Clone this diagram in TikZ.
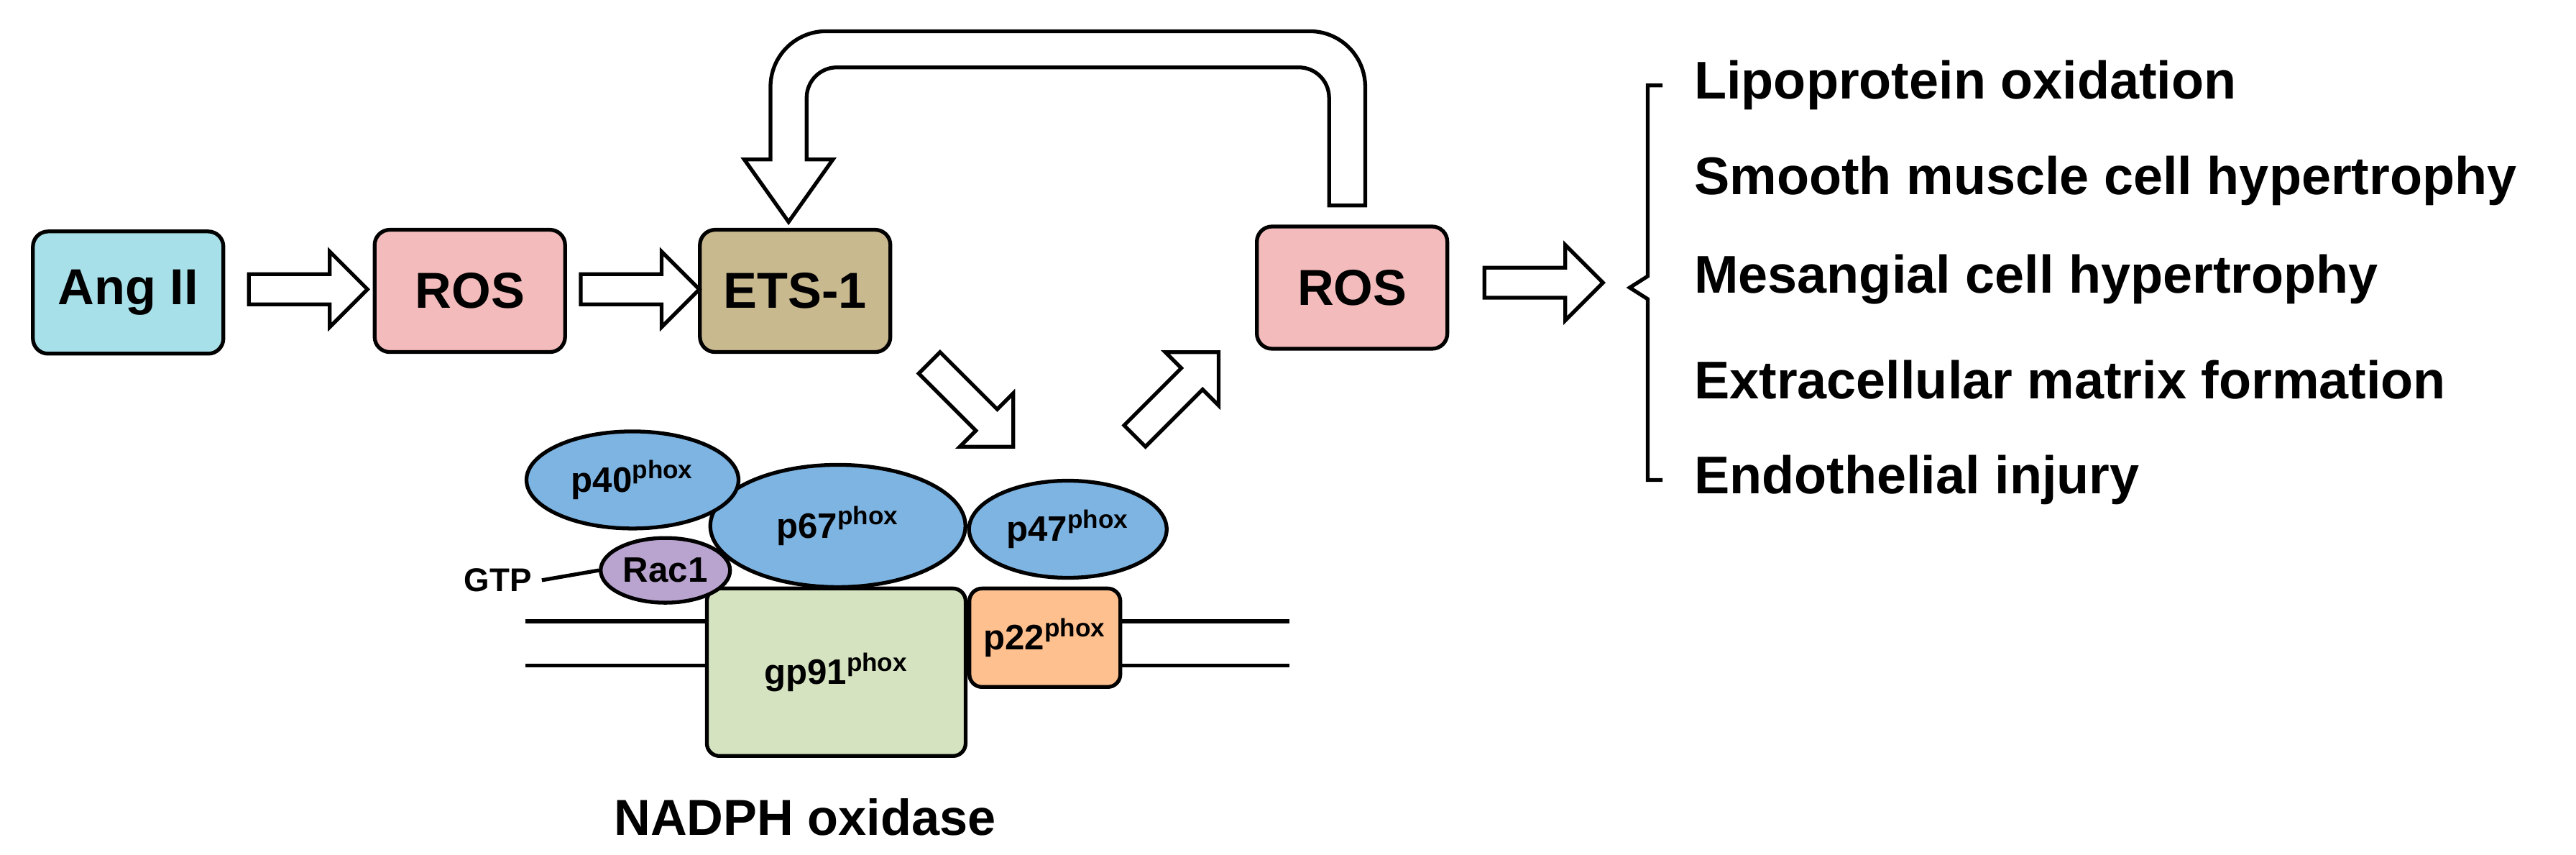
\documentclass[tikz,border=0pt]{standalone}
\usepackage{fontspec}
\setmainfont{Liberation Sans}
\usetikzlibrary{shapes.arrows, shapes.geometric}
\tikzset{
  every path/.style={line width=1.5pt},
  box/.style={draw, rounded corners=6pt, minimum width=2.65cm, minimum height=1.7cm, font=\fontsize{20}{22}\selectfont\bfseries},
  barrow/.style={draw, fill=white, single arrow, minimum height=1.65cm, minimum width=1.05cm, single arrow head extend=0.25cm, inner sep=0.14cm},
  sub/.style={draw, ellipse, font=\fontsize{14}{16}\selectfont\bfseries, fill=blue67},
  txt/.style={anchor=west, font=\fontsize{21}{24}\selectfont\bfseries}
}
\definecolor{cyanbox}{HTML}{A8E0E9}
\definecolor{pinkbox}{HTML}{F3BBBB}
\definecolor{tanbox}{HTML}{C9B98F}
\definecolor{blue67}{HTML}{7DB4E2}
\definecolor{greenbox}{HTML}{D5E3C0}
\definecolor{orangebox}{HTML}{FFC08F}
\definecolor{purplebox}{HTML}{B9A3CF}
\newcommand{\phox}[1]{#1\textsuperscript{\fontsize{10}{11}\selectfont phox}}
\begin{document}
\begin{tikzpicture}[x=0.02286cm, y=-0.02286cm]
\useasboundingbox (0,0) rectangle (1568,520);
% main chain
\node[box, fill=cyanbox] (ang) at (78,178) {Ang II};
\node[box, fill=pinkbox] (ros1) at (286,177) {ROS};
\node[box, fill=tanbox] (ets) at (484,177) {ETS-1};
\node[box, fill=pinkbox] (ros2) at (823,175) {ROS};
\node[barrow] (a1) at (183,176) {};
\node[barrow] (a2) at (385,176) {};
\node[barrow] (a3) at (935,172) {};
\node[barrow, rotate=-45] (a4) at (588,243) {};
\node[barrow, rotate=45] (a5) at (713,243) {};
% feedback loop
\draw[fill=white] (809,125) [rounded corners=12pt] -- (809,41) -- (491,41) [sharp corners] -- (491,97) -- (507,97) -- (480,135) -- (453,97) -- (469,97) [rounded corners=22pt] -- (469,19) -- (831,19) [sharp corners] -- (831,125) -- cycle;
% membrane
\draw (320,378) -- (785,378);
\draw (320,405) -- (785,405);
% NADPH oxidase complex
\node[draw, rounded corners=5pt, fill=greenbox, minimum width=3.6cm, minimum height=2.33cm, font=\fontsize{14}{16}\selectfont\bfseries] (gp91) at (509,409) {\phox{gp91}};
\node[draw, rounded corners=5pt, fill=orangebox, minimum width=2.1cm, minimum height=1.37cm, font=\fontsize{14}{16}\selectfont\bfseries] (p22) at (636,388) {\phox{p22}};
\node[sub, minimum width=3.55cm, minimum height=1.7cm] (p67) at (510,320) {\phox{p67}};
\node[sub, minimum width=2.95cm, minimum height=1.35cm] (p40) at (385,292) {\phox{p40}};
\node[sub, minimum width=2.75cm, minimum height=1.35cm] (p47) at (650,322) {\phox{p47}};
\node[sub, fill=purplebox, minimum width=1.8cm, minimum height=0.9cm, inner sep=1pt] (rac) at (405,347) {Rac1};
\node[font=\fontsize{13}{15}\selectfont\bfseries] (gtp) at (303,353) {GTP};
\draw (gtp.east) -- (rac.west);
\node[font=\fontsize{20}{22}\selectfont\bfseries] (nadph) at (490,497) {NADPH oxidase};
% outcomes
\draw (1012,52) -- (1003,52) -- (1003,168) -- (992,175) -- (1003,182) -- (1003,292) -- (1012,292);
\node[txt] (t1) at (1025,52) {Lipoprotein oxidation};
\node[txt] (t2) at (1025,110) {Smooth muscle cell hypertrophy};
\node[txt] (t3) at (1025,170) {Mesangial cell hypertrophy};
\node[txt] (t4) at (1025,231) {Extracellular matrix formation};
\node[txt] (t5) at (1025,292) {Endothelial injury};
\end{tikzpicture}
\end{document}
